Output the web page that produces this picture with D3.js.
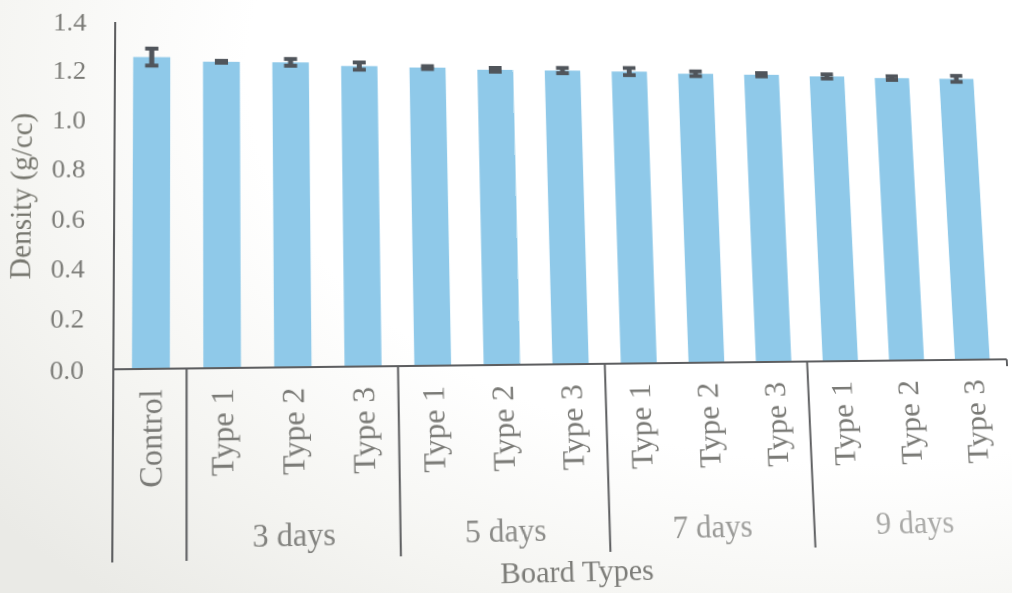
<!DOCTYPE html>
<html>
<head>
<meta charset="utf-8">
<script src="https://cdn.jsdelivr.net/npm/d3@7"></script>
<style>
  html, body { margin: 0; padding: 0; width: 1012px; height: 593px; overflow: hidden; }
  body { background: radial-gradient(ellipse 110% 120% at 85% 12%, #ffffff 55%, #f5f5f2 78%, #eaeae6 100%); }
  #chart { position: absolute; left: 0; top: 0; transform-origin: 0 0; }
  text { font-family: "Liberation Serif", "Times New Roman", serif; }
</style>
</head>
<body>
<svg id="chart" width="1012" height="593"></svg>
<script>
// Board density by treatment time and board type
const groupNames = ["3 days", "5 days", "7 days", "9 days"];
const categoryLabels = ["Control", "Type 1", "Type 2", "Type 3", "Type 1", "Type 2", "Type 3",
                        "Type 1", "Type 2", "Type 3", "Type 1", "Type 2", "Type 3"];
const categoryGroups = ["", "3 days", "3 days", "3 days", "5 days", "5 days", "5 days",
                        "7 days", "7 days", "7 days", "9 days", "9 days", "9 days"];
const density = [1.256, 1.238, 1.237, 1.223, 1.218, 1.210, 1.208,
                 1.205, 1.197, 1.194, 1.188, 1.182, 1.180];
const densityError = [0.035, 0.004, 0.014, 0.015, 0.006, 0.008, 0.011,
                      0.015, 0.010, 0.007, 0.009, 0.008, 0.013];
const yTicks = [0.0, 0.2, 0.4, 0.6, 0.8, 1.0, 1.2, 1.4];
const yTitle = "Density (g/cc)";
const xTitle = "Board Types";

const plot = { left: 113, right: 1007, top: 23, bottom: 369 };
const groupLineBottom = 554;

const svg = d3.select("#chart");

const defs = svg.append("defs");
const ink = defs.append("linearGradient")
  .attr("id", "ink").attr("gradientUnits", "userSpaceOnUse")
  .attr("x1", 100).attr("y1", 0).attr("x2", 1000).attr("y2", 0);
ink.append("stop").attr("offset", 0).attr("stop-color", "#7a7a76");
ink.append("stop").attr("offset", 0.5).attr("stop-color", "#8e8e8b");
ink.append("stop").attr("offset", 1).attr("stop-color", "#b0b0ae");

const x = d3.scaleBand()
  .domain(d3.range(density.length))
  .range([plot.left, plot.right])
  .paddingInner(0.47)
  .paddingOuter(0.26);

const y = d3.scaleLinear()
  .domain([0, 1.4])
  .range([plot.bottom, plot.top]);

// Y axis tick labels
const yAxis = d3.axisLeft(y)
  .tickValues(yTicks)
  .tickFormat(d3.format(".1f"))
  .tickSize(0)
  .tickPadding(28);

const yg = svg.append("g")
  .attr("transform", `translate(${plot.left},0)`)
  .call(yAxis);
yg.select(".domain").remove();
yg.selectAll("text")
  .attr("font-family", "Liberation Serif, serif")
  .attr("font-size", 26)
  .attr("fill", "#7b7b77");

// Bars
svg.append("g").selectAll("rect")
  .data(density)
  .join("rect")
  .attr("x", (d, i) => x(i))
  .attr("width", x.bandwidth())
  .attr("y", d => y(d))
  .attr("height", d => y(0) - y(d))
  .attr("fill", "#8fc9e9");

// Error bars
const errColor = "#50555b";
const capW = 13;
const eg = svg.append("g").selectAll("g")
  .data(density.map((d, i) => ({ i, v: d, e: densityError[i] })))
  .join("g");
eg.append("line")
  .attr("x1", d => x(d.i) + x.bandwidth() / 2)
  .attr("x2", d => x(d.i) + x.bandwidth() / 2)
  .attr("y1", d => y(d.v + d.e))
  .attr("y2", d => y(d.v - d.e))
  .attr("stroke", errColor).attr("stroke-width", 5);
eg.selectAll("line.cap")
  .data(d => [{ i: d.i, v: d.v + d.e }, { i: d.i, v: d.v - d.e }])
  .join("line")
  .attr("class", "cap")
  .attr("x1", d => x(d.i) + x.bandwidth() / 2 - capW / 2)
  .attr("x2", d => x(d.i) + x.bandwidth() / 2 + capW / 2)
  .attr("y1", d => y(d.v))
  .attr("y2", d => y(d.v))
  .attr("stroke", errColor).attr("stroke-width", 4);

// Axis lines
const axisColor = "#5d5e60";
svg.append("line")
  .attr("x1", plot.left).attr("x2", plot.left)
  .attr("y1", y(1.4)).attr("y2", groupLineBottom)
  .attr("stroke", axisColor).attr("stroke-width", 2);
svg.append("line")
  .attr("x1", plot.left).attr("x2", plot.right)
  .attr("y1", y(0)).attr("y2", y(0))
  .attr("stroke", axisColor).attr("stroke-width", 2);
svg.append("line")
  .attr("x1", plot.right).attr("x2", plot.right)
  .attr("y1", y(0)).attr("y2", y(0) + 7)
  .attr("stroke", axisColor).attr("stroke-width", 2);

// Group separators sit halfway between the last bar of one group and the first of the next
const boundaries = [];
for (let i = 1; i < categoryGroups.length; i++) {
  if (categoryGroups[i] !== categoryGroups[i - 1]) {
    boundaries.push((x(i - 1) + x.bandwidth() + x(i)) / 2);
  }
}
svg.append("g").selectAll("line")
  .data(boundaries)
  .join("line")
  .attr("x1", d => d).attr("x2", d => d)
  .attr("y1", y(0)).attr("y2", groupLineBottom)
  .attr("stroke", axisColor).attr("stroke-width", 2);

// Category labels
svg.append("g").selectAll("text")
  .data(categoryLabels)
  .join("text")
  .attr("transform", (d, i) => `translate(${x(i) + x.bandwidth() / 2},389) rotate(-90)`)
  .attr("text-anchor", "end")
  .attr("dominant-baseline", "central")
  .attr("font-size", 31)
  .attr("fill", "url(#ink)")
  .text(d => d);

// Group labels
const groupCenters = groupNames.map(g => {
  const idx = categoryGroups.map((c, i) => c === g ? i : -1).filter(i => i >= 0);
  const a = idx[0], b = idx[idx.length - 1];
  return (x(a) + x(b) + x.bandwidth()) / 2;
});
svg.append("g").selectAll("text")
  .data(groupNames)
  .join("text")
  .attr("x", (d, i) => groupCenters[i])
  .attr("y", 542)
  .attr("text-anchor", "middle")
  .attr("font-size", 31)
  .attr("fill", "url(#ink)")
  .text(d => d);

// Axis titles
svg.append("text")
  .attr("transform", "translate(23,198) rotate(-90)")
  .attr("text-anchor", "middle")
  .attr("dominant-baseline", "central")
  .attr("font-size", 29)
  .attr("fill", "#77776f")
  .text(yTitle);
svg.append("text")
  .attr("x", 561).attr("y", 582)
  .attr("text-anchor", "middle")
  .attr("font-size", 30)
  .attr("fill", "#7d7d79")
  .text(xTitle);

// The printed figure was photographed at a slight angle: project the flat drawing
// onto the tilted page with a planar homography.
function homography(src, dst) {
  const A = [], b = [];
  for (let k = 0; k < 4; k++) {
    const [u, v] = src[k], [X, Y] = dst[k];
    A.push([u, v, 1, 0, 0, 0, -u * X, -v * X]); b.push(X);
    A.push([0, 0, 0, u, v, 1, -u * Y, -v * Y]); b.push(Y);
  }
  const n = 8;
  for (let c = 0; c < n; c++) {
    let p = c;
    for (let r = c + 1; r < n; r++) if (Math.abs(A[r][c]) > Math.abs(A[p][c])) p = r;
    [A[c], A[p]] = [A[p], A[c]]; [b[c], b[p]] = [b[p], b[c]];
    for (let r = 0; r < n; r++) {
      if (r === c) continue;
      const f = A[r][c] / A[c][c];
      for (let k = c; k < n; k++) A[r][k] -= f * A[c][k];
      b[r] -= f * b[c];
    }
  }
  return b.map((v, i) => v / A[i][i]);
}
const [a, bb, c, d, e, f, g, h] = homography(
  [[plot.left, plot.top], [plot.left, plot.bottom], [plot.right, plot.bottom], [plot.right, plot.top]],
  [[115.2, 22], [113.3, 369.3], [1006.7, 359.3], [987, 28]]
);
svg.style("transform", `matrix3d(${a},${d},0,${g},${bb},${e},0,${h},0,0,1,0,${c},${f},0,1)`);
</script>
</body>
</html>
